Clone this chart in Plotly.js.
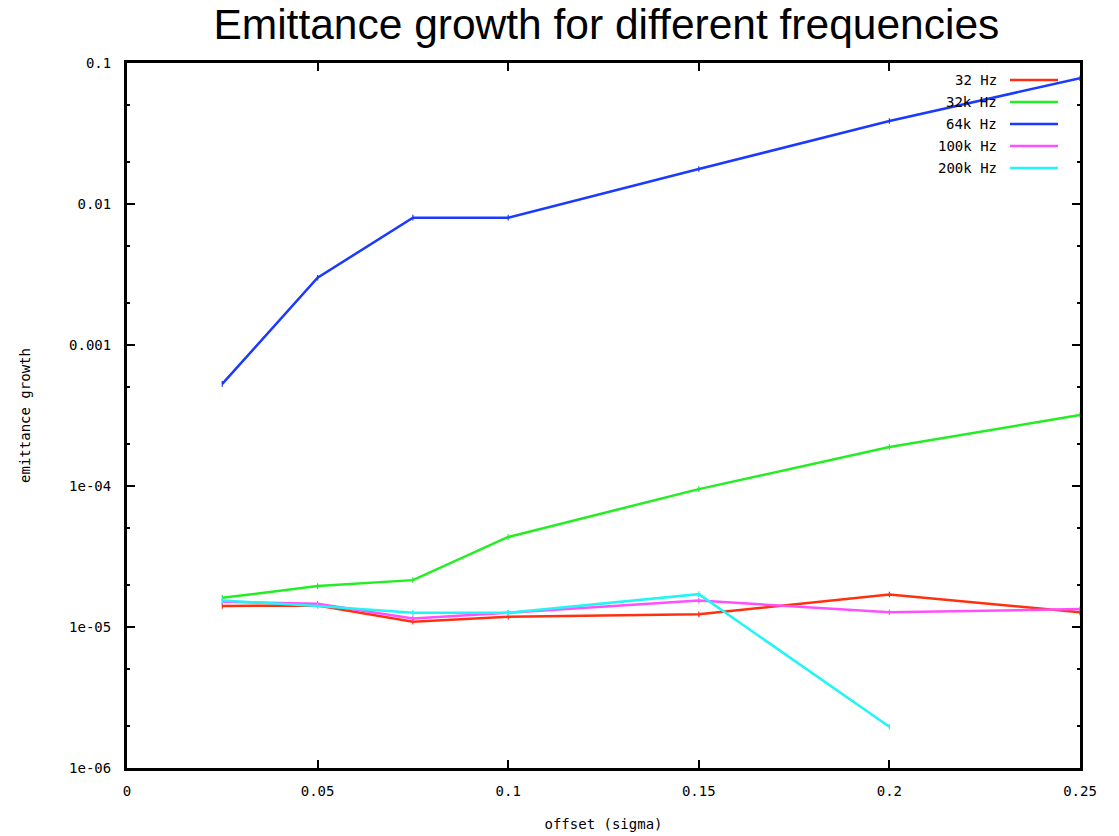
<!DOCTYPE html>
<html>
<head>
<meta charset="utf-8">
<script src="https://cdn.plot.ly/plotly-3.0.1.min.js"></script>
<style>html,body{margin:0;padding:0;background:#fff;}#chart{width:1119px;height:836px;}</style>
</head>
<body>
<div id="chart"></div>
<script>
const offsets = [0.025, 0.05, 0.075, 0.1, 0.15, 0.2, 0.25];
const hz32 = [1.41e-5, 1.42e-5, 1.09e-5, 1.18e-5, 1.23e-5, 1.70e-5, 1.27e-5];
const khz32 = [1.61e-5, 1.95e-5, 2.15e-5, 4.35e-5, 9.5e-5, 1.89e-4, 3.19e-4];
const khz64 = [5.3e-4, 3.0e-3, 8.0e-3, 8.0e-3, 1.77e-2, 3.88e-2, 7.8e-2];
const khz100 = [1.51e-5, 1.46e-5, 1.15e-5, 1.26e-5, 1.54e-5, 1.27e-5, 1.34e-5];
const offsets200 = [0.025, 0.05, 0.075, 0.1, 0.15, 0.2];
const khz200 = [1.54e-5, 1.41e-5, 1.26e-5, 1.26e-5, 1.71e-5, 1.96e-6];

const seriesNames = ["32 Hz", "32k Hz", "64k Hz", "100k Hz", "200k Hz"];
const seriesColors = ["#ff3010", "#22ee22", "#1a3aff", "#ff50ff", "#22f5f5"];
const seriesX = [offsets, offsets, offsets, offsets, offsets200];
const seriesY = [hz32, khz32, khz64, khz100, khz200];

const yTickVals = [1e-6, 1e-5, 1e-4, 1e-3, 1e-2, 1e-1];
const yTickText = ["1e-06", "1e-05", "1e-04", "0.001", "0.01", "0.1"];
const xTickVals = [0, 0.05, 0.1, 0.15, 0.2, 0.25];
const xTickText = ["0", "0.05", "0.1", "0.15", "0.2", "0.25"];

const mono = "DejaVu Sans Mono, Liberation Mono, monospace";

const traces = seriesNames.map((n, i) => ({
  type: "scatter",
  mode: "lines+markers",
  name: n,
  x: seriesX[i],
  y: seriesY[i],
  line: {color: seriesColors[i], width: 2.5},
  marker: {symbol: "line-ns-open", size: 4, color: seriesColors[i], line: {width: 1.2, color: seriesColors[i]}},
  showlegend: false
}));

// gnuplot-style key: text right-aligned, line sample to the right
const annotations = [];
const shapes = [];
seriesNames.forEach((n, i) => {
  const ypx = 80 + i * 22;
  const yp = 1 - (ypx - 63) / 705;
  annotations.push({
    xref: "paper", yref: "paper", x: (999 - 127) / 953, y: yp,
    xanchor: "right", yanchor: "middle", text: n, showarrow: false,
    font: {family: mono, size: 14, color: "#000"}
  });
  shapes.push({
    type: "line", xref: "paper", yref: "paper",
    x0: (1010 - 127) / 953, x1: (1058 - 127) / 953, y0: yp, y1: yp,
    line: {color: seriesColors[i], width: 2.5}
  });
});

const layout = {
  width: 1119, height: 836,
  margin: {l: 127, r: 39, t: 63, b: 68},
  paper_bgcolor: "#fff", plot_bgcolor: "#fff",
  title: {text: "Emittance growth for different frequencies", font: {family: "Liberation Sans, Arial, sans-serif", size: 42.5, color: "#000"}, xref: "paper", x: 0.503, xanchor: "center", yref: "container", y: 1 - 24 / 836, yanchor: "middle"},
  xaxis: {
    range: [0, 0.25], tickvals: xTickVals, ticktext: xTickText,
    ticks: "inside", ticklen: 8, tickwidth: 2, tickcolor: "#000",
    showline: true, linecolor: "#000", linewidth: 3, mirror: "ticks",
    showgrid: false, zeroline: false, ticklabelstandoff: 8,
    tickfont: {family: mono, size: 14, color: "#000"},
    title: {text: "offset (sigma)", font: {family: mono, size: 14, color: "#000"}, standoff: 22}
  },
  yaxis: {
    type: "log", range: [-6, -1], tickvals: yTickVals, ticktext: yTickText,
    ticks: "inside", ticklen: 8, tickwidth: 2, tickcolor: "#000",
    showline: true, linecolor: "#000", linewidth: 3, mirror: "ticks",
    showgrid: false, zeroline: false, ticklabelstandoff: 10,
    minor: {dtick: "D2", ticks: "inside", ticklen: 3, tickwidth: 2, tickcolor: "#000"},
    tickfont: {family: mono, size: 14, color: "#000"},
    title: {text: "emittance growth", font: {family: mono, size: 14, color: "#000"}, standoff: 36}
  },
  annotations: annotations,
  shapes: shapes
};

Plotly.newPlot("chart", traces, layout, {displayModeBar: false, staticPlot: true});
</script>
</body>
</html>
